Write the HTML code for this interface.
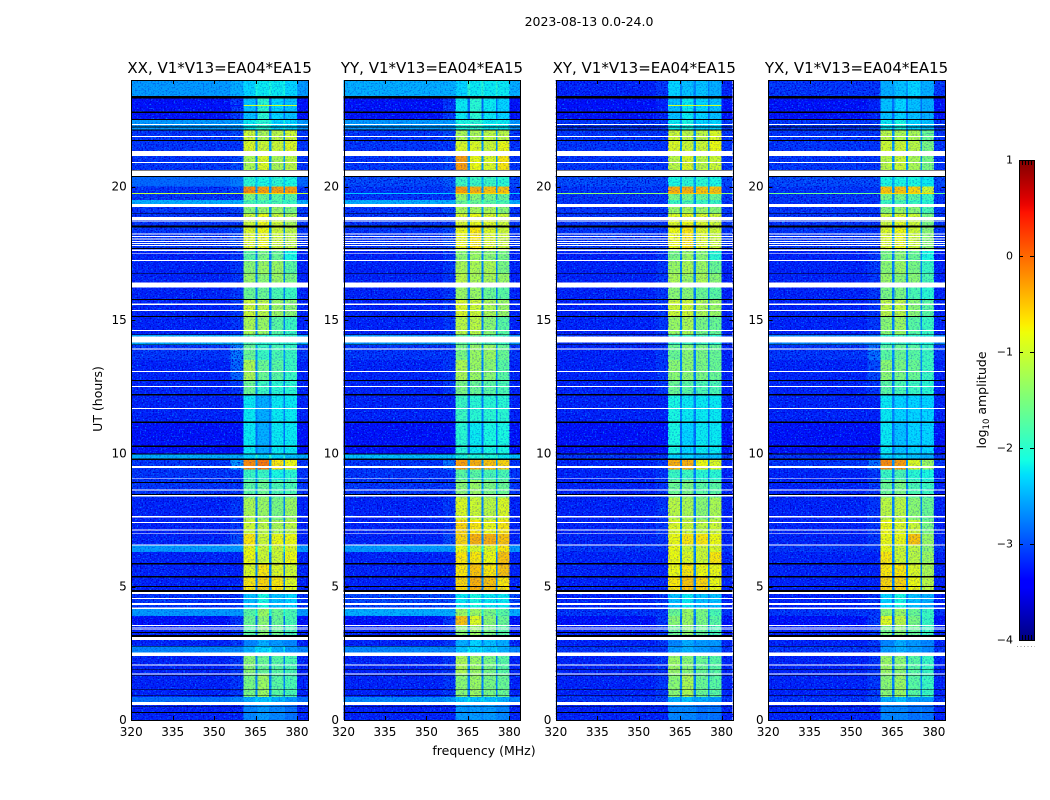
<!DOCTYPE html>
<html lang="en">
<head>
<meta charset="utf-8">
<title>2023-08-13 0.0-24.0</title>
<style>
html,body{margin:0;padding:0;background:#fff;width:1050px;height:800px;overflow:hidden}
svg{display:block}
text{font-family:"DejaVu Sans","Liberation Sans",sans-serif;fill:#000}
</style>
</head>
<body>
<svg id="chart" xmlns="http://www.w3.org/2000/svg" width="1050" height="800" viewBox="0 0 1050 800">
  <defs>
    <filter id="fleck-light" x="0" y="0" width="100%" height="100%" color-interpolation-filters="sRGB">
      <feTurbulence type="fractalNoise" baseFrequency=".62 .72" numOctaves="1" seed="3"/>
      <feColorMatrix type="matrix" values="0 0 0 0 0  0 0 0 0 .6  0 0 0 0 1  3.4 0 0 0 -1.85"/>
    </filter>
    <filter id="fleck-dark" x="0" y="0" width="100%" height="100%" color-interpolation-filters="sRGB">
      <feTurbulence type="fractalNoise" baseFrequency=".62 .72" numOctaves="1" seed="11"/>
      <feColorMatrix type="matrix" values="0 0 0 0 0  0 0 0 0 0  0 0 0 0 .8  0 4 0 0 -1.9"/>
    </filter>
    <linearGradient id="jet-gradient" x1="0" y1="1" x2="0" y2="0"></linearGradient>
  </defs>
  <text x="589" y="26" font-size="12.5" text-anchor="middle">2023-08-13 0.0-24.0</text>
  <text x="484" y="755" font-size="12.5" text-anchor="middle">frequency (MHz)</text>
  <text transform="translate(102,399) rotate(-90)" font-size="12.5" text-anchor="middle">UT (hours)</text>
  <g id="panels"></g>
  <g id="colorbar"></g>
</svg>
<script>
// ---- Chart data ----
const panelTitles = ["XX, V1*V13=EA04*EA15", "YY, V1*V13=EA04*EA15", "XY, V1*V13=EA04*EA15", "YX, V1*V13=EA04*EA15"];
const xTickLabels = [320, 335, 350, 365, 380];
const yTickLabels = [0, 5, 10, 15, 20];
const colorbarTicks = [1, 0, -1, -2, -3, -4];

// Time rows (UT hours): row i spans rowEdges[i]..rowEdges[i+1]
const rowEdges = [0,.56,.86,1.7,2.4,2.75,3.0,3.55,3.9,4.17,4.85,5.4,5.85,6.3,6.55,7.0,7.5,8.35,9.0,9.4,9.78,10,11.15,12.2,12.73,13.5,14.06,14.45,15.13,15.77,16.22,16.73,17.22,17.65,18.5,19,19.35,19.5,19.72,20,20.36,21.15,21.7,22.12,22.5,23.35,24];

// Frequency columns (MHz)
const bgColumn = [320, 356];
const shoulderColumn = [356, 360.6];
const subbands = [[360.6,364.9],[365.7,369.9],[370.7,375.1],[375.7,380]];
const gapColumns = [[364.9,365.7],[369.9,370.7],[375.1,375.7]];
const rightColumn = [380, 384];

// log10 amplitude per row: [background, shoulder, subband1..4]
const levelsXX = [
[-3.2,-3.2,-2.7,-2.6,-2.7,-2.8],[-2.8,-2.7,-2.5,-2.4,-2.5,-2.6],[-3.2,-3.1,-1.5,-1.3,-1.7,-1.8],[-3.2,-3.1,-1.4,-1.6,-1.7,-1.8],
[-2.7,-2.7,-2.5,-2.3,-2.5,-2.6],[-3.2,-3.1,-2.7,-2.5,-2.6,-2.7],[-3.2,-3.1,-1.7,-1.4,-1.6,-1.8],[-3.3,-3.1,-1.6,-1.4,-1.6,-1.8],
[-2.6,-2.6,-1.7,-1.3,-1.6,-1.8],[-3.1,-3.1,-2.4,-2.1,-2.4,-2.3],[-3.2,-3.2,-0.7,-0.6,-0.7,-0.9],[-3.2,-3.2,-0.9,-0.7,-0.9,-1.0],
[-3.2,-3.2,-0.8,-1.0,-1.0,-0.8],[-2.6,-2.6,-0.8,-1.0,-1.0,-0.9],[-3.2,-3.0,-0.7,-1.0,-0.8,-0.8],[-3.2,-3.1,-1.0,-1.1,-1.2,-1.1],
[-3.2,-3.1,-1.2,-1.3,-1.5,-1.3],[-3.1,-3.1,-1.7,-1.6,-1.8,-1.8],[-3.1,-3.1,-1.9,-1.9,-2.1,-2.0],[-3.1,-2.6,-0.2,-0.1,-0.7,-0.8],
[-2.5,-2.5,-2.3,-2.3,-2.3,-2.4],[-3.3,-3.3,-2.2,-2.5,-2.2,-2.2],[-3.2,-3.2,-2.2,-2.5,-2.2,-2.2],[-3.2,-3.1,-1.6,-1.9,-2.0,-2.0],
[-3.2,-2.85,-1.2,-1.6,-1.7,-1.9],[-3.1,-2.75,-1.6,-1.9,-1.8,-1.9],[-2.5,-2.5,-1.8,-2.0,-2.0,-2.0],[-3.2,-3.1,-1.2,-1.3,-1.7,-1.9],
[-3.2,-3.1,-1.0,-1.1,-1.3,-1.4],[-3.2,-3.1,-1.6,-1.6,-1.8,-1.9],[-3.2,-3.1,-1.3,-1.4,-1.3,-1.5],[-3.2,-3.1,-1.4,-1.3,-1.3,-1.7],
[-3.2,-3.1,-1.7,-1.5,-1.6,-2.1],[-3.1,-3.0,-0.9,-0.8,-1.0,-1.1],[-3.1,-3.1,-1.0,-0.8,-1.0,-1.2],[-3.1,-3.0,-1.4,-1.3,-1.3,-1.5],
[-2.5,-2.5,-1.8,-1.8,-1.8,-1.9],[-3.1,-3.1,-1.5,-1.6,-1.7,-1.7],[-3.1,-3.0,-0.2,-0.3,-0.3,-0.3],[-2.85,-2.75,-2.0,-2.1,-2.0,-2.1],
[-3.1,-3.0,-1.2,-0.9,-1.2,-1.1],[-3.1,-3.1,-0.9,-1.0,-1.0,-0.9],[-3.1,-3.0,-1.0,-1.2,-1.1,-1.0],[-2.6,-2.6,-2.2,-2.0,-2.3,-2.3],
[-3.3,-3.1,-2.4,-2.0,-2.3,-2.4],[-2.6,-2.5,-2.3,-2.2,-2.2,-2.3]];
const levelsYY = [
[-3.2,-3.2,-2.6,-2.6,-2.6,-2.7],[-2.7,-2.6,-2.4,-2.4,-2.4,-2.5],[-3.2,-3.1,-1.4,-1.3,-1.5,-1.6],[-3.2,-3.1,-1.2,-1.3,-1.5,-1.7],
[-2.7,-2.7,-2.4,-2.3,-2.4,-2.5],[-3.2,-3.1,-2.5,-2.3,-2.4,-2.5],[-3.2,-3.1,-1.4,-1.3,-1.5,-1.7],[-3.3,-3.1,-0.5,-0.9,-1.4,-1.6],
[-2.5,-2.5,-1.3,-1.3,-1.5,-1.7],[-3.0,-3.0,-2.2,-2.1,-2.2,-2.2],[-3.2,-3.2,-0.6,-0.4,-0.5,-0.7],[-3.2,-3.2,-0.7,-0.5,-0.7,-0.5],
[-3.2,-3.2,-0.7,-0.7,-0.8,-0.5],[-2.6,-2.6,-0.8,-0.9,-0.9,-0.7],[-3.2,-3.0,-0.6,-0.4,-0.4,-0.5],[-3.2,-3.1,-0.6,-0.7,-0.8,-0.7],
[-3.2,-3.1,-0.9,-1.0,-1.1,-0.9],[-3.1,-3.1,-1.4,-1.3,-1.5,-1.6],[-3.1,-3.1,-1.7,-1.7,-1.8,-1.8],[-3.1,-2.8,-0.3,-0.4,-0.5,-0.6],
[-2.4,-2.4,-2.1,-2.1,-2.1,-2.2],[-3.3,-3.3,-2.0,-2.2,-2.1,-2.1],[-3.2,-3.2,-1.9,-2.0,-2.0,-2.0],[-3.2,-3.1,-1.5,-1.6,-1.7,-1.8],
[-3.2,-3.1,-1.2,-1.3,-1.4,-1.7],[-3.1,-3.1,-1.5,-1.3,-1.3,-1.6],[-2.6,-2.6,-1.7,-1.6,-1.8,-1.9],[-3.2,-3.1,-1.1,-1.1,-1.4,-1.7],
[-3.2,-3.1,-0.9,-1.0,-1.2,-1.3],[-3.2,-3.1,-1.3,-1.3,-1.6,-1.7],[-3.2,-3.1,-1.1,-1.2,-1.2,-1.3],[-3.2,-3.1,-1.2,-1.2,-1.2,-1.5],
[-3.2,-3.1,-1.4,-1.3,-1.4,-1.5],[-3.1,-3.0,-0.8,-0.7,-0.9,-1.0],[-3.1,-3.1,-0.9,-0.8,-0.9,-1.0],[-3.1,-3.0,-1.2,-1.2,-1.2,-1.4],
[-2.5,-2.5,-1.6,-1.6,-1.7,-1.8],[-3.1,-3.1,-1.3,-1.4,-1.5,-1.6],[-3.1,-3.0,-0.3,-0.4,-0.5,-0.5],[-3.0,-2.9,-1.9,-1.9,-1.9,-2.0],
[-3.1,-3.0,-0.3,-0.8,-0.9,-0.7],[-3.1,-3.1,-0.9,-0.9,-1.0,-0.8],[-3.1,-3.0,-1.2,-1.2,-1.1,-1.1],[-2.6,-2.6,-2.1,-2.0,-2.2,-2.2],
[-3.3,-3.1,-2.2,-2.0,-2.2,-2.3],[-2.5,-2.5,-2.3,-2.2,-2.2,-2.2]];
const levelsXY = [
[-3.2,-3.2,-2.7,-2.7,-2.8,-2.8],[-3.1,-3.0,-2.5,-2.4,-2.5,-2.6],[-3.2,-3.1,-1.4,-1.2,-1.6,-1.7],[-3.2,-3.1,-1.3,-1.4,-1.6,-1.7],
[-3.1,-3.1,-2.6,-2.5,-2.6,-2.7],[-3.2,-3.1,-2.7,-2.5,-2.6,-2.6],[-3.2,-3.1,-1.6,-1.4,-1.6,-1.8],[-3.3,-3.1,-1.4,-1.3,-1.5,-1.7],
[-3.1,-3.1,-1.6,-1.3,-1.5,-1.8],[-3.2,-3.1,-2.4,-2.2,-2.4,-2.4],[-3.2,-3.2,-0.7,-0.5,-0.6,-0.8],[-3.2,-3.2,-0.8,-0.7,-0.8,-0.8],
[-3.2,-3.2,-0.8,-0.9,-1.0,-0.7],[-3.1,-3.1,-0.8,-1.0,-1.0,-0.9],[-3.2,-3.1,-0.8,-0.7,-0.7,-0.8],[-3.2,-3.1,-0.9,-1.0,-1.1,-1.0],
[-3.2,-3.1,-1.1,-1.2,-1.4,-1.2],[-3.2,-3.1,-1.6,-1.5,-1.7,-1.7],[-3.2,-3.1,-1.9,-1.9,-2.0,-2.0],[-3.2,-3.1,-0.4,-0.4,-0.8,-0.9],
[-3.1,-3.1,-2.3,-2.3,-2.4,-2.4],[-3.3,-3.3,-2.1,-2.3,-2.2,-2.2],[-3.2,-3.2,-2.1,-2.2,-2.2,-2.2],[-3.2,-3.1,-1.6,-1.7,-1.8,-1.8],
[-3.2,-3.1,-1.4,-1.4,-1.5,-1.6],[-3.2,-3.1,-1.6,-1.4,-1.5,-1.6],[-3.1,-3.1,-1.9,-1.9,-1.9,-2.0],[-3.2,-3.1,-1.3,-1.2,-1.5,-1.6],
[-3.2,-3.1,-1.0,-1.0,-1.2,-1.3],[-3.2,-3.1,-1.4,-1.4,-1.6,-1.7],[-3.2,-3.1,-1.2,-1.3,-1.2,-1.4],[-3.2,-3.1,-1.3,-1.2,-1.3,-1.6],
[-3.2,-3.1,-1.5,-1.3,-1.4,-2.0],[-3.1,-3.1,-0.8,-0.7,-0.9,-1.0],[-3.1,-3.1,-0.9,-0.8,-0.9,-1.0],[-3.1,-3.1,-1.3,-1.2,-1.3,-1.4],
[-3.1,-3.1,-1.9,-1.8,-1.9,-1.9],[-3.1,-3.1,-1.5,-1.5,-1.6,-1.6],[-3.1,-3.1,-0.4,-0.4,-0.5,-0.5],[-3.0,-3.0,-2.1,-2.0,-2.0,-2.1],
[-3.1,-3.1,-1.1,-0.9,-1.1,-1.0],[-3.1,-3.1,-0.9,-1.0,-1.0,-0.8],[-3.1,-3.1,-1.0,-1.1,-1.1,-0.9],[-3.1,-3.1,-2.2,-2.1,-2.3,-2.3],
[-3.3,-3.2,-2.4,-2.2,-2.3,-2.4],[-3.2,-3.1,-2.3,-2.4,-2.4,-2.5]];
const levelsYX = [
[-3.2,-3.2,-2.7,-2.7,-2.8,-2.8],[-3.1,-3.0,-2.5,-2.4,-2.6,-2.6],[-3.2,-3.1,-1.4,-1.3,-1.7,-1.9],[-3.2,-3.1,-1.3,-1.4,-1.7,-1.9],
[-3.1,-3.1,-2.6,-2.5,-2.6,-2.7],[-3.2,-3.1,-2.7,-2.5,-2.6,-2.7],[-3.2,-3.1,-1.5,-1.4,-1.6,-1.9],[-3.3,-3.1,-0.9,-1.1,-1.5,-1.9],
[-3.1,-3.1,-1.4,-1.3,-1.6,-1.9],[-3.2,-3.1,-2.3,-2.1,-2.4,-2.5],[-3.2,-3.2,-0.6,-0.6,-0.8,-1.1],[-3.2,-3.2,-0.7,-0.7,-0.9,-1.2],
[-3.2,-3.2,-0.7,-1.0,-1.1,-1.3],[-3.1,-3.1,-0.8,-1.0,-1.1,-1.4],[-3.2,-3.1,-0.8,-0.8,-0.5,-1.3],[-3.2,-3.1,-0.8,-0.9,-1.0,-1.5],
[-3.2,-3.1,-1.1,-1.1,-1.4,-1.6],[-3.2,-3.1,-1.6,-1.5,-1.8,-1.9],[-3.2,-3.1,-1.9,-1.8,-2.0,-2.1],[-3.1,-2.8,-0.2,-0.3,-0.9,-1.3],
[-3.1,-3.1,-2.3,-2.3,-2.4,-2.5],[-3.3,-3.3,-2.2,-2.4,-2.3,-2.3],[-3.2,-3.2,-2.2,-2.3,-2.3,-2.3],[-3.2,-3.1,-1.7,-1.8,-1.9,-2.0],
[-3.2,-3.0,-1.4,-1.5,-1.6,-1.9],[-3.1,-2.8,-1.7,-1.6,-1.7,-1.9],[-2.7,-2.7,-2.0,-1.9,-2.0,-2.1],[-3.2,-3.1,-1.4,-1.3,-1.7,-1.9],
[-3.2,-3.1,-1.1,-1.1,-1.4,-1.7],[-3.2,-3.1,-1.5,-1.5,-1.8,-2.0],[-3.2,-3.1,-1.3,-1.4,-1.4,-1.8],[-3.2,-3.1,-1.4,-1.3,-1.5,-1.9],
[-3.2,-3.1,-1.5,-1.4,-1.6,-2.1],[-3.1,-3.1,-0.9,-0.8,-1.0,-1.4],[-3.1,-3.1,-1.0,-0.9,-1.0,-1.5],[-3.1,-3.1,-1.4,-1.3,-1.4,-1.8],
[-3.1,-3.1,-1.9,-1.8,-1.9,-2.0],[-3.1,-3.1,-1.5,-1.5,-1.7,-1.9],[-3.1,-3.1,-0.5,-0.5,-0.6,-1.0],[-3.0,-3.0,-2.1,-2.1,-2.1,-2.2],
[-3.1,-3.1,-1.1,-1.0,-1.2,-1.5],[-3.1,-3.1,-1.0,-1.0,-1.1,-1.5],[-3.1,-3.1,-1.1,-1.2,-1.2,-1.6],[-3.1,-3.1,-2.2,-2.1,-2.3,-2.4],
[-3.3,-3.2,-2.4,-2.3,-2.4,-2.5],[-3.1,-3.1,-2.5,-2.4,-2.3,-2.5]];
const panelLevels = [levelsXX, levelsYY, levelsXY, levelsYX];

// Narrow single-integration spikes: [UT start, UT end, background, subband]
const spikesXX = [[19.72,19.76,-1.1,-0.6],[23.03,23.07,-3.3,-1.0]];
const spikesYY = [[19.72,19.76,-2.4,-0.6]];
const spikesXY = [[19.72,19.76,-1.4,-0.5],[23.03,23.07,-3.3,-1.0]];
const spikesYX = [[19.72,19.76,-1.6,-0.6]];
const panelSpikes = [spikesXX, spikesYY, spikesXY, spikesYX];

// Flagged rows (no data, white) [UT start, UT end]
const flaggedBands = [[.56,.68],[1.71,1.75],[2.04,2.08],[2.4,2.54],[3.0,3.11],[3.37,3.39],[3.44,3.46],[3.53,3.56],[4.17,4.21],[4.32,4.38],[4.54,4.58],[4.72,4.8],[6.54,6.58],[6.97,7.0],[7.1,7.14],[7.39,7.43],[7.6,7.65],[8.39,8.44],[8.6,8.65],[9.03,9.06],[9.45,9.52],[11.66,11.7],[12.49,12.53],[13.05,13.09],[13.9,13.94],[14.15,14.38],[14.59,14.63],[15.34,15.38],[15.57,15.61],[16.22,16.4],[17.21,17.25],[17.5,17.52],[17.59,17.65],[17.78,17.81],[17.85,17.89],[17.93,17.97],[18.02,18.06],[18.11,18.15],[18.2,18.24],[18.7,18.74],[18.75,18.87],[19.24,19.35],[20.4,20.6],[20.89,20.92],[21.15,21.34],[21.86,21.9],[22.31,22.35]];

// Zero-amplitude rows (black) [UT start, UT end]
const zeroBands = [[.27,.3],[.5,.53],[.91,.94],[1.12,1.15],[1.66,1.69],[1.87,1.9],[2.75,2.78],[3.11,3.18],[3.27,3.3],[4.8,4.88],[4.98,5.03],[5.34,5.4],[5.83,5.88],[8.44,8.47],[8.88,8.93],[9.75,9.81],[9.95,10.0],[10.24,10.29],[11.14,11.19],[12.16,12.23],[12.71,12.75],[14.06,14.09],[14.43,14.46],[15.11,15.15],[15.75,15.79],[16.72,16.75],[17.66,17.7],[18.47,18.55],[18.97,19.0],[20.36,20.4],[20.6,20.63],[21.71,21.75],[22.1,22.14],[22.22,22.25],[22.5,22.53],[22.76,22.81],[23.3,23.4]];

// ---- Layout ----
const SVGNS = "http://www.w3.org/2000/svg";
const panelLefts = [131.25, 343.55, 555.85, 768.15];
const panelWidth = 176.8, plotTop = 80, plotBottom = 720;
const freqMin = 320, freqMax = 384, utMin = 0, utMax = 24, vMin = -4, vMax = 1;
const cbLeft = 1019, cbRight = 1034, cbTop = 160, cbBottom = 640;

function xScale(left, f) { return left + (f - freqMin) / (freqMax - freqMin) * panelWidth; }
function yScale(h) { return plotBottom - (h - utMin) / (utMax - utMin) * (plotBottom - plotTop); }
function cbScale(v) { return cbBottom - (v - vMin) / (vMax - vMin) * (cbBottom - cbTop); }

function ramp(t, pts) {
  for (let i = 1; i < pts.length; i++) {
    if (t <= pts[i][0]) {
      const a = pts[i - 1], b = pts[i];
      return a[1] + (b[1] - a[1]) * (t - a[0]) / (b[0] - a[0]);
    }
  }
  return pts[pts.length - 1][1];
}
function jet(t) {
  t = Math.max(0, Math.min(1, t));
  const r = ramp(t, [[0,0],[.35,0],[.66,1],[.89,1],[1,.5]]);
  const g = ramp(t, [[0,0],[.125,0],[.375,1],[.64,1],[.91,0],[1,0]]);
  const b = ramp(t, [[0,.5],[.11,1],[.34,1],[.65,0],[1,0]]);
  return "rgb(" + Math.round(r * 255) + "," + Math.round(g * 255) + "," + Math.round(b * 255) + ")";
}
function valueColor(v) { return jet((v - vMin) / (vMax - vMin)); }

function svgEl(tag, attrs, parent) {
  const el = document.createElementNS(SVGNS, tag);
  for (const k in attrs) el.setAttribute(k, attrs[k]);
  parent.appendChild(el);
  return el;
}
function cell(parent, left, f0, f1, h0, h1, color) {
  const x0 = xScale(left, f0), x1 = xScale(left, f1), yTop = yScale(h1), yBot = yScale(h0);
  const el = svgEl("rect", {x: x0, y: yTop, width: x1 - x0, height: yBot - yTop, fill: color, "shape-rendering": "crispEdges"}, parent);
  
  
  return el;
}

const panelsRoot = document.getElementById("panels");
panelTitles.forEach(function (title, p) {
  const left = panelLefts[p];
  const g = svgEl("g", {}, panelsRoot);
  
  

  const levels = panelLevels[p];
  levels.forEach(function (row, i) {
    const h0 = rowEdges[i], h1 = rowEdges[i + 1];
    cell(g, left, bgColumn[0], bgColumn[1], h0, h1, valueColor(row[0]));
    cell(g, left, shoulderColumn[0], shoulderColumn[1], h0, h1, valueColor(row[1]));
    subbands.forEach(function (sb, s) {
      cell(g, left, sb[0], sb[1], h0, h1, valueColor(row[2 + s]));
    });
    gapColumns.forEach(function (gc) {
      cell(g, left, gc[0], gc[1], h0, h1, valueColor(row[0] + 0.5));
    });
    cell(g, left, rightColumn[0], rightColumn[1], h0, h1, valueColor(row[0]));
  });

  // Decorative channel speckle (visual texture only, no data values)
  [[freqMin, shoulderColumn[1], 1], [rightColumn[0], freqMax, 1], [shoulderColumn[1], rightColumn[0], .3]].forEach(function (band) {
    ["fleck-light", "fleck-dark"].forEach(function (filterId) {
      const x0 = xScale(left, band[0]), x1 = xScale(left, band[1]);
      const sp = svgEl("rect", {x: x0, y: plotTop, width: x1 - x0, height: plotBottom - plotTop, filter: "url(#" + filterId + ")", opacity: band[2]}, g);
      
      
    });
  });

  // Bright continuum rows are smoother in the reference: veil the speckle there
  levels.forEach(function (row, i) {
    if (row[0] >= -2.9) {
      [[bgColumn[0], bgColumn[1], row[0]], [shoulderColumn[0], shoulderColumn[1], row[1]], [rightColumn[0], rightColumn[1], row[0]]].forEach(function (c) {
        const el = cell(g, left, c[0], c[1], rowEdges[i], rowEdges[i + 1], valueColor(c[2]));
        el.setAttribute('opacity', '.62');
      });
    }
  });

  panelSpikes[p].forEach(function (sp) {
    cell(g, left, bgColumn[0], shoulderColumn[1], sp[0], sp[1], valueColor(sp[2]));
    cell(g, left, shoulderColumn[1], rightColumn[0], sp[0], sp[1], valueColor(sp[3]));
    cell(g, left, rightColumn[0], rightColumn[1], sp[0], sp[1], valueColor(sp[2]));
  });

  flaggedBands.forEach(function (b) {
    const el = cell(g, left, freqMin, freqMax, b[0], b[1], "#fff");
    
  });
  zeroBands.forEach(function (b) {
    const el = cell(g, left, freqMin, freqMax, b[0], b[1], "#000");
    
  });

  // Frame
  const fx0 = Math.round(left) + .5, fx1 = Math.round(left + panelWidth) + .5;
  const frame = svgEl("rect", {x: fx0, y: plotTop + .5, width: fx1 - fx0, height: plotBottom - plotTop, fill: "none", stroke: "#000", "stroke-width": 1}, g);
  
  

  // Title
  const t = svgEl("text", {x: left + panelWidth / 2, y: 73, "font-size": 15, "text-anchor": "middle"}, g);
  t.textContent = title;
  
  

  // X ticks
  xTickLabels.forEach(function (f) {
    const x = Math.round(xScale(left, f)) + .5;
    [[plotBottom, plotBottom - 4], [plotTop, plotTop + 4]].forEach(function (seg) {
      const tk = svgEl("line", {x1: x, x2: x, y1: seg[0], y2: seg[1], stroke: "#000", "stroke-width": 1}, g);
      
      
    });
    const lab = svgEl("text", {x: xScale(left, f), y: 736, "font-size": 12, "text-anchor": "middle"}, g);
    lab.textContent = f;
    
    
  });

  // Y ticks
  yTickLabels.forEach(function (h) {
    const y = Math.round(yScale(h)) + .5;
    [[fx0, fx0 + 4], [fx1, fx1 - 4]].forEach(function (seg) {
      const tk = svgEl("line", {x1: seg[0], x2: seg[1], y1: y, y2: y, stroke: "#000", "stroke-width": 1}, g);
      
      
    });
    const lab = svgEl("text", {x: left - 4.5, y: yScale(h) + 4, "font-size": 12, "text-anchor": "end"}, g);
    lab.textContent = h;
    
    
  });
});

// ---- Colorbar ----
const grad = document.getElementById("jet-gradient");
for (let i = 0; i <= 64; i++) {
  svgEl("stop", {offset: (i / 64 * 100) + "%", "stop-color": jet(i / 64)}, grad);
}
const cb = document.getElementById("colorbar");
const cbFill = svgEl("rect", {x: cbLeft, y: cbTop, width: cbRight - cbLeft, height: cbBottom - cbTop, fill: "url(#jet-gradient)"}, cb);


const cbFrame = svgEl("rect", {x: cbLeft + .5, y: cbTop + .5, width: cbRight - cbLeft, height: cbBottom - cbTop, fill: "none", stroke: "#000", "stroke-width": 1}, cb);


colorbarTicks.forEach(function (v) {
  const y = Math.round(cbScale(v)) + .5;
  if (v !== vMin && v !== vMax) {
    [[cbLeft, cbLeft + 4], [cbRight, cbRight - 4]].forEach(function (seg) {
      const tk = svgEl("line", {x1: seg[0], x2: seg[1], y1: y, y2: y, stroke: "#000", "stroke-width": 1}, cb);
      
      
    });
  }
  const lab = svgEl("text", {x: 1013, y: cbScale(v) + 3.5, "font-size": 11, "text-anchor": "end"}, cb);
  lab.textContent = v < 0 ? "\u2212" + Math.abs(v) : String(v);
  
  
});
[1022, 1025, 1028, 1031].forEach(function (x) {
  [[cbTop, cbTop + 5], [cbBottom, cbBottom - 5]].forEach(function (seg) {
    const tk = svgEl("line", {x1: x + .5, x2: x + .5, y1: seg[0], y2: seg[1], stroke: "#000", "stroke-width": 1}, cb);
    
    
  });
});
const dots = svgEl("line", {x1: 1017, x2: 1035, y1: 646.5, y2: 646.5, stroke: "#999", "stroke-width": 1, "stroke-dasharray": "1 2.5"}, cb);


const cbLabel = svgEl("text", {transform: "translate(986,400) rotate(-90)", "font-size": 12.5, "text-anchor": "middle"}, cb);


cbLabel.textContent = "log";
const sub = svgEl("tspan", {"font-size": 8.5, dy: 3}, cbLabel);
sub.textContent = "10";
const rest = svgEl("tspan", {dy: -3}, cbLabel);
rest.textContent = " amplitude";
</script>
</body>
</html>
